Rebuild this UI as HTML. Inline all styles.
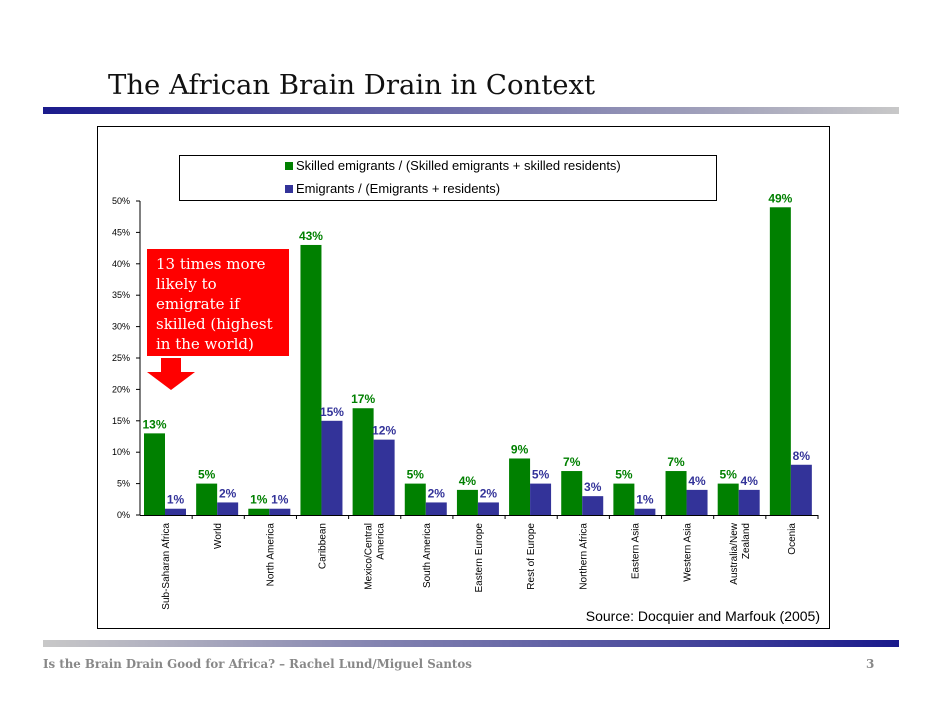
<!DOCTYPE html>
<html><head><meta charset="utf-8"><style>
body{margin:0;background:#fff;width:942px;height:728px;overflow:hidden}
svg{display:block}
</style></head><body>
<svg width="942" height="728" font-family="Liberation Sans, sans-serif">
<defs>
<linearGradient id="gt" x1="0" x2="1"><stop offset="0" stop-color="#1a1a8c"/><stop offset="1" stop-color="#c8c8c8"/></linearGradient>
<linearGradient id="gb" x1="0" x2="1"><stop offset="0" stop-color="#c8c8c8"/><stop offset="1" stop-color="#1a1a8c"/></linearGradient>
</defs>
<text x="108" y="94" font-family="DejaVu Serif, serif" font-size="27.5" fill="#111">The African Brain Drain in Context</text>
<rect x="43" y="107" width="856" height="7" fill="url(#gt)"/>
<rect x="97.5" y="126.5" width="732" height="502" fill="#fff" stroke="#000"/>
<rect x="179.5" y="155.5" width="537" height="45" fill="#fff" stroke="#000"/>
<rect x="285" y="162" width="8" height="8" fill="#008000"/>
<text x="296" y="170" font-size="13">Skilled emigrants / (Skilled emigrants + skilled residents)</text>
<rect x="285" y="185" width="8" height="8" fill="#333399"/>
<text x="296" y="193" font-size="13">Emigrants / (Emigrants + residents)</text>
<g id="chart"></g>
<rect x="147" y="249" width="142" height="107" fill="#ff0000"/>
<text font-family="DejaVu Serif, serif" font-size="15" fill="#fff">
<tspan x="156" y="269">13 times more</tspan><tspan x="156" y="289">likely to</tspan><tspan x="156" y="309">emigrate if</tspan><tspan x="156" y="329">skilled (highest</tspan><tspan x="156" y="349">in the world)</tspan></text>
<polygon points="161,358 181,358 181,372 195,372 171,390 147,372 161,372" fill="#ff0000"/>
<text x="820" y="621" font-size="14" text-anchor="end">Source: Docquier and Marfouk (2005)</text>
<rect x="43" y="640" width="856" height="7" fill="url(#gb)"/>
<text x="43" y="668" font-family="DejaVu Serif, serif" font-size="11.8" fill="#888" font-weight="bold">Is the Brain Drain Good for Africa? – Rachel Lund/Miguel Santos</text>
<text x="866" y="668" font-family="DejaVu Serif, serif" font-size="12" fill="#888" font-weight="bold">3</text>
</svg>
<script>
const categories=[["Sub-Saharan Africa"],["World"],["North America"],["Caribbean"],["Mexico/Central","America"],["South America"],["Eastern Europe"],["Rest of Europe"],["Northern Africa"],["Eastern Asia"],["Western Asia"],["Australia/New","Zealand"],["Ocenia"]];
const skilled=[13,5,1,43,17,5,4,9,7,5,7,5,49];
const overall=[1,2,1,15,12,2,2,5,3,1,4,4,8];
const yTicks=[0,5,10,15,20,25,30,35,40,45,50];
const NS="http://www.w3.org/2000/svg";
const g=document.getElementById('chart');
const x0=140,x1=818,y0=515,yTop=201,vmax=50;
const slot=(x1-x0)/categories.length;
const y=v=>y0-(v/vmax)*(y0-yTop);
function mk(t,a){const e=document.createElementNS(NS,t);for(const k in a)e.setAttribute(k,a[k]);g.appendChild(e);return e;}
let e=mk('line',{x1:x0,y1:yTop,x2:x0,y2:y0,stroke:'#000'});


e=mk('line',{x1:x0,y1:y0+0.5,x2:x1,y2:y0+0.5,stroke:'#000'});


yTicks.forEach(t=>{
 const l=mk('line',{x1:x0-4,x2:x0,y1:y(t),y2:y(t),stroke:'#000'});
 
 
 const tx=mk('text',{x:x0-10,y:y(t)+3,'font-size':9,'text-anchor':'end'});tx.textContent=t+'%';
 
 
});
categories.forEach((c,i)=>{
 const gx=x0+i*slot;
 const tk=mk('line',{x1:gx+slot,x2:gx+slot,y1:y0,y2:y0+4,stroke:'#000'});
 
 
 const bw=21;
 const b1=mk('rect',{x:gx+4,y:y(skilled[i]),width:bw,height:y0-y(skilled[i]),fill:'#008000'});
 
 
 const b2=mk('rect',{x:gx+4+bw,y:y(overall[i]),width:bw,height:y0-y(overall[i]),fill:'#333399'});
 
 
 const l1=mk('text',{x:gx+4+bw/2,y:y(skilled[i])-5,'font-size':12,'font-weight':'bold',fill:'#008000','text-anchor':'middle'});l1.textContent=skilled[i]+'%';
 
 
 const l2=mk('text',{x:gx+4+bw*1.5,y:y(overall[i])-5,'font-size':12,'font-weight':'bold',fill:'#333399','text-anchor':'middle'});l2.textContent=overall[i]+'%';
 
 
 const cx=gx+slot/2;
 const t=mk('text',{transform:`translate(${cx},523) rotate(-90)`,'font-size':10,'text-anchor':'end'});
 
 
 const n=c.length;
 c.forEach((line,j)=>{const s=document.createElementNS(NS,'tspan');s.setAttribute('x',0);s.setAttribute('y',3+(j-(n-1)/2)*12);s.textContent=line;t.appendChild(s);});
});
</script>
</body></html>
